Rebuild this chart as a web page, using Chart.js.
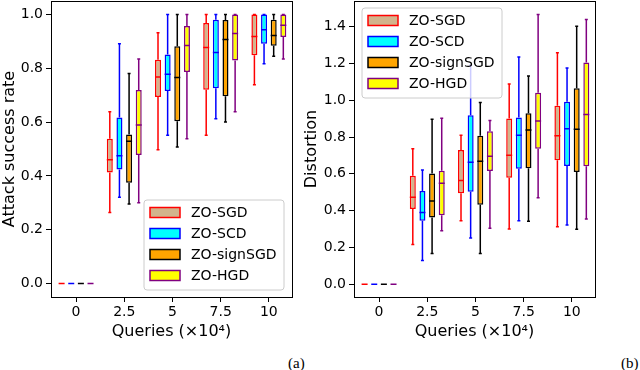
<!DOCTYPE html>
<html>
<head>
<meta charset="utf-8">
<script src="https://cdn.jsdelivr.net/npm/chart.js@4.4.1/dist/chart.umd.min.js"></script>
<style>
body { margin: 0; background: #fff; }
#wrap { position: relative; width: 640px; height: 370px; background: #fff; }
canvas { position: absolute; top: 0; }
#asrChart { left: 0; }
#distChart { left: 300px; }
.sub { position: absolute; top: 355px; font-family: "Liberation Serif", serif; font-size: 15px; line-height: 17px; color: #000; }
</style>
</head>
<body>
<div id="wrap">
  <canvas id="asrChart" width="300" height="345"></canvas>
  <canvas id="distChart" width="340" height="345"></canvas>
  <div class="sub" style="left:288px">(a)</div>
  <div class="sub" style="left:621px">(b)</div>
</div>
<script>
// クエリ数 (×10^4) と手法
const queries = [0, 2.5, 5, 7.5, 10];
const methods = ['ZO-SGD', 'ZO-SCD', 'ZO-signSGD', 'ZO-HGD'];
const offsets = [-0.75, -0.25, 0.25, 0.75];
const xTicks = [0, 2.5, 5, 7.5, 10];
const asrTicks = [0, 0.2, 0.4, 0.6, 0.8, 1.0];
const distTicks = [0, 0.2, 0.4, 0.6, 0.8, 1.0, 1.2, 1.4];

// 各クエリ数ごとの [最小, 第1四分位, 中央値, 第3四分位, 最大]
const asrSGD  = [[0, 0, 0, 0, 0], [0.264, 0.413, 0.46, 0.538, 0.638], [0.497, 0.693, 0.768, 0.832, 0.932], [0.551, 0.72, 0.877, 0.968, 1.0], [0.739, 0.848, 0.918, 1.0, 1.0]];
const asrSCD  = [[0, 0, 0, 0, 0], [0.321, 0.424, 0.475, 0.617, 0.891], [0.551, 0.716, 0.778, 0.851, 1.0], [0.612, 0.726, 0.859, 0.98, 1.0], [0.817, 0.891, 0.943, 1.0, 1.0]];
const asrSign = [[0, 0, 0, 0, 0], [0.296, 0.375, 0.529, 0.554, 0.781], [0.507, 0.603, 0.766, 0.882, 1.0], [0.6, 0.696, 0.907, 0.979, 1.0], [0.845, 0.884, 0.922, 0.98, 1.0]];
const asrHGD  = [[0, 0, 0, 0, 0], [0.3, 0.478, 0.589, 0.719, 0.834], [0.538, 0.786, 0.885, 0.957, 1.0], [0.638, 0.829, 0.929, 1.0, 1.0], [0.834, 0.916, 0.96, 1.0, 1.0]];

const distSGD  = [[0, 0, 0, 0, 0], [0.215, 0.408, 0.472, 0.59, 0.737], [0.345, 0.494, 0.563, 0.729, 0.81], [0.3, 0.579, 0.701, 0.901, 1.088], [0.312, 0.674, 0.807, 0.97, 1.259]];
const distSCD  = [[0, 0, 0, 0, 0], [0.128, 0.345, 0.39, 0.507, 0.621], [0.251, 0.503, 0.663, 0.918, 1.19], [0.345, 0.627, 0.81, 0.906, 1.235], [0.322, 0.643, 0.845, 0.992, 1.175]];
const distSign = [[0, 0, 0, 0, 0], [0.167, 0.362, 0.452, 0.602, 0.897], [0.167, 0.432, 0.669, 0.807, 0.988], [0.342, 0.63, 0.839, 0.93, 1.132], [0.298, 0.61, 0.843, 1.066, 1.402]];
const distHGD  = [[0, 0, 0, 0, 0], [0.291, 0.374, 0.549, 0.617, 0.902], [0.304, 0.615, 0.695, 0.832, 0.89], [0.47, 0.737, 0.887, 1.041, 1.466], [0.354, 0.641, 0.923, 1.206, 1.439]];

const edgeColors = ['red', 'blue', 'black', 'purple'];
const fillColors = ['tan', 'cyan', 'orange', 'yellow'];
const FONT = '"DejaVu Sans", sans-serif';

// ひげ・中央値・外枠を描く
const boxParts = {
    id: 'boxParts',
    afterDatasetsDraw(chart) {
        const ctx = chart.ctx;
        const xs = chart.scales.x, ys = chart.scales.y;
        ctx.save();
        ctx.lineWidth = 1.5;
        chart.data.datasets.forEach(ds => {
            ctx.strokeStyle = ds.borderColor;
            ds.data.forEach((pt, j) => {
                const x = xs.getPixelForValue(pt.x);
                const [lo, q1, med, q3, hi] = ds.stats[j].map(v => ys.getPixelForValue(v));
                ctx.beginPath();
                ctx.moveTo(x, q1); ctx.lineTo(x, lo);
                ctx.moveTo(x, q3); ctx.lineTo(x, hi);
                ctx.moveTo(x - 1.5, lo); ctx.lineTo(x + 1.5, lo);
                ctx.moveTo(x - 1.5, hi); ctx.lineTo(x + 1.5, hi);
                ctx.moveTo(x - 3, med); ctx.lineTo(x + 3, med);
                ctx.stroke();
            });
        });
        const a = chart.chartArea;
        ctx.strokeStyle = '#000';
        ctx.lineWidth = 1;
        ctx.strokeRect(Math.round(a.left) + 0.5, Math.round(a.top) + 0.5, Math.round(a.right - a.left), Math.round(a.bottom - a.top));
        ctx.restore();
    }
};

// 凡例 (グラフ内に配置)
const boxLegend = {
    id: 'boxLegend',
    afterDraw(chart, args, opts) {
        const ctx = chart.ctx, a = chart.chartArea;
        const w = 140, h = 90;
        const upper = opts.place === 'upperLeft';
        const left = upper ? a.left + 8 : a.right - 8 - w;
        const top = upper ? a.top + 7 : a.bottom - 7 - h;
        const r = 3;
        ctx.save();
        ctx.beginPath();
        ctx.moveTo(left + r, top);
        ctx.lineTo(left + w - r, top);
        ctx.arcTo(left + w, top, left + w, top + r, r);
        ctx.lineTo(left + w, top + h - r);
        ctx.arcTo(left + w, top + h, left + w - r, top + h, r);
        ctx.lineTo(left + r, top + h);
        ctx.arcTo(left, top + h, left, top + h - r, r);
        ctx.lineTo(left, top + r);
        ctx.arcTo(left, top, left + r, top, r);
        ctx.closePath();
        ctx.fillStyle = 'rgba(255,255,255,0.8)';
        ctx.fill();
        ctx.strokeStyle = '#cccccc';
        ctx.lineWidth = 1;
        ctx.stroke();
        chart.data.datasets.forEach((ds, i) => {
            const cy = top + 12.5 + i * 21;
            ctx.fillStyle = ds.backgroundColor;
            ctx.fillRect(left + 6, cy - 5, 30, 10);
            ctx.strokeStyle = ds.borderColor;
            ctx.lineWidth = 1.5;
            ctx.strokeRect(left + 6, cy - 5, 30, 10);
            ctx.fillStyle = '#000';
            ctx.font = '14px ' + FONT;
            ctx.textBaseline = 'middle';
            ctx.fillText(ds.label, left + 47, cy + 1);
        });
        ctx.restore();
    }
};

function makeChart(id, stats, yTicks, yMin, yMax, yTitle, yWidth, titlePad, rightPad, place) {
    const datasets = methods.map((m, i) => ({
        label: m,
        data: queries.map((q, j) => ({ x: q + offsets[i], y: [stats[i][j][1], stats[i][j][3]] })),
        stats: stats[i],
        backgroundColor: fillColors[i],
        borderColor: edgeColors[i],
        borderWidth: 1.5,
        borderSkipped: false,
        grouped: false,
        maxBarThickness: 6
    }));
    return new Chart(document.getElementById(id), {
        type: 'bar',
        data: { datasets: datasets },
        options: {
            responsive: false,
            animation: false,
            devicePixelRatio: 1,
            layout: { padding: { top: 1, right: rightPad, bottom: 4, left: 0 } },
            plugins: {
                legend: { display: false },
                tooltip: { enabled: false },
                boxLegend: { place: place }
            },
            scales: {
                x: {
                    type: 'linear',
                    min: -1.3,
                    max: 11.2,
                    offset: false,
                    grid: { offset: false, drawOnChartArea: false, drawTicks: true, tickLength: 5, color: '#000' },
                    border: { display: false },
                    afterBuildTicks: s => { s.ticks = xTicks.map(v => ({ value: v })); },
                    afterFit: s => { s.height = 44; s.paddingLeft = 0; s.paddingRight = 0; },
                    ticks: {
                        color: '#000',
                        padding: 2,
                        maxRotation: 0,
                        font: { family: FONT, size: 14 },
                        callback: v => String(v)
                    },
                    title: {
                        display: true,
                        text: 'Queries (×10⁴)',
                        color: '#000',
                        padding: { top: 0, bottom: 0 },
                        font: { family: FONT, size: 16 }
                    }
                },
                y: {
                    min: yMin,
                    max: yMax,
                    grid: { drawOnChartArea: false, drawTicks: true, tickLength: 5, color: '#000' },
                    border: { display: false },
                    afterBuildTicks: s => { s.ticks = yTicks.map(v => ({ value: v })); },
                    afterFit: s => { s.width = yWidth; s.paddingTop = 0; s.paddingBottom = 0; },
                    ticks: {
                        color: '#000',
                        padding: 3,
                        font: { family: FONT, size: 14 },
                        callback: v => v.toFixed(1)
                    },
                    title: {
                        display: true,
                        text: yTitle,
                        color: '#000',
                        padding: { top: titlePad, bottom: 0 },
                        font: { family: FONT, size: 16 }
                    }
                }
            }
        },
        plugins: [boxParts, boxLegend]
    });
}

makeChart('asrChart', [asrSGD, asrSCD, asrSign, asrHGD], asrTicks, -0.05, 1.05,
    'Attack success rate', 51, 0, 8, 'lowerRight');
makeChart('distChart', [distSGD, distSCD, distSign, distHGD], distTicks, -0.07, 1.54,
    'Distortion', 54, 2, 45, 'upperLeft');
</script>
</body>
</html>
